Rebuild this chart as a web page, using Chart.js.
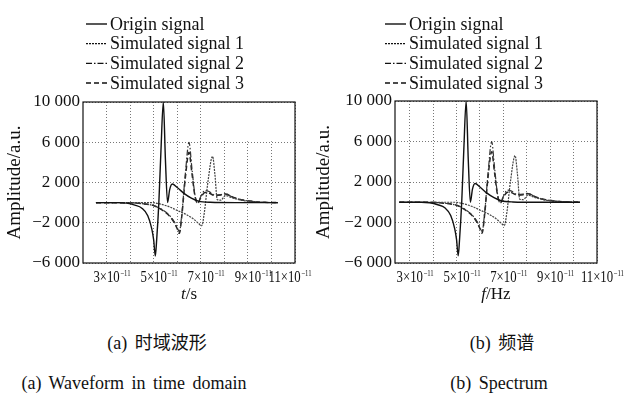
<!DOCTYPE html>
<html><head><meta charset="utf-8">
<script src="https://cdn.jsdelivr.net/npm/chart.js@4.4.1/dist/chart.umd.min.js"></script>
<style>
html,body{margin:0;padding:0;background:#fff;}
body{width:626px;height:394px;position:relative;overflow:hidden;font-family:'Liberation Serif','Noto Sans CJK SC',serif;color:#111;}
canvas{position:absolute;top:0;}
.t{position:absolute;transform:translate(-50%,-50%);white-space:nowrap;font-size:18px;line-height:1;}
.cap{word-spacing:3px;}
</style></head><body>
<canvas id="c1" width="330" height="292" style="left:0"></canvas>
<canvas id="c2" width="313" height="292" style="left:313px"></canvas>
<div class="t" style="left:189px;top:293px;font-size:17px"><i>t</i>/s</div>
<div class="t" style="left:496px;top:293px;font-size:17px"><i>f</i>/Hz</div>
<div class="t cap" style="left:157px;top:343px">(a) 时域波形</div>
<div class="t cap" style="left:502px;top:343px">(b) 频谱</div>
<div class="t cap" style="left:134px;top:383px">(a) Waveform in time domain</div>
<div class="t cap" style="left:499px;top:383px">(b) Spectrum</div>
<script>
// ---- data (x in units of 1e-11) ----
const legendLabels = ['Origin signal', 'Simulated signal 1', 'Simulated signal 2', 'Simulated signal 3'];

const originX = [2.55, 3.5, 3.85, 4.2, 4.5, 4.75, 4.92, 5.0, 5.07, 5.13, 5.22, 5.31, 5.41, 5.5, 5.59, 5.68, 5.79, 6.0, 6.3, 6.6, 6.9, 7.4, 8.5, 10.27];
const originY = [0, 0, -50, -250, -550, -1300, -2600, -3700, -5300, -3600, 0, 5200, 10000, 4200, 0, 1300, 1850, 1500, 900, 450, 150, 30, 0, 0];

const sim1X = [2.55, 4.9, 5.3, 5.7, 6.05, 6.4, 6.7, 6.9, 7.04, 7.15, 7.3, 7.5, 7.6, 7.7, 7.85, 8.05, 8.3, 8.7, 9.2, 9.7, 10.27];
const sim1Y = [0, 0, -150, -450, -830, -1200, -1650, -2050, -2300, -1000, 2000, 4600, 2800, 300, 250, 700, 500, 250, 100, 20, 0];

const sim2X = [2.55, 3.9, 4.5, 5.0, 5.4, 5.7, 5.9, 6.0, 6.09, 6.2, 6.35, 6.5, 6.62, 6.75, 6.87, 7.0, 7.18, 7.35, 7.6, 7.85, 8.05, 8.3, 8.7, 9.2, 9.7, 10.27];
const sim2Y = [0, 0, -100, -300, -750, -1350, -2000, -2500, -2900, -1000, 3000, 6000, 3500, 800, -100, 600, 1200, 1100, 750, 800, 900, 600, 300, 120, 30, 0];

const sim3X = [2.55, 3.9, 4.5, 5.0, 5.4, 5.7, 5.9, 6.0, 6.09, 6.2, 6.35, 6.5, 6.62, 6.75, 6.87, 7.0, 7.18, 7.35, 7.6, 7.85, 8.05, 8.3, 8.7, 9.2, 9.7, 10.27];
const sim3Y = [0, 0, -100, -300, -800, -1400, -2100, -2600, -3050, -1200, 2600, 5000, 3000, 700, -50, 500, 1000, 950, 700, 750, 850, 600, 300, 120, 30, 0];

const yGridValues = [-6000, -4000, -2000, 0, 2000, 4000, 6000, 8000, 10000];
const yLabelValues = [-6000, -2000, 2000, 6000, 10000];
const xGridValues = [3, 4, 5, 6, 7, 8, 9, 10, 11];
const xLabelValues = [3, 5, 7, 9, 11];
const xExponent = '\u221211';

// ---- styles ----
const FONT = "'Liberation Serif', 'Times New Roman', serif";
const seriesStyles = [
  {borderColor: '#111', borderWidth: 1.4, borderDash: []},
  {borderColor: '#444', borderWidth: 1.2, borderDash: [2, 1]},
  {borderColor: '#333', borderWidth: 1.2, borderDash: [6, 2, 1.5, 2]},
  {borderColor: '#222', borderWidth: 1.5, borderDash: [5, 3]}
];
const seriesData = [[originX, originY], [sim1X, sim1Y], [sim2X, sim2Y], [sim3X, sim3Y]];

function pts(xs, ys) { return xs.map((x, i) => ({x: x, y: ys[i]})); }
function fmtY(v) {
  return (v < 0 ? '\u2212' : '') + Math.abs(v).toString().replace(/\B(?=(\d{3})+(?!\d))/g, ' ');
}

const panelPlugin = {
  id: 'panel',
  beforeDatasetsDraw(chart, args, opts) {
    const {ctx, chartArea: a} = chart;
    const x0 = chart.scales.x.getPixelForValue(opts.eraseFromX);
    const y1 = chart.scales.y.getPixelForValue(opts.eraseAboveY);
    ctx.save();
    ctx.fillStyle = '#fff';
    ctx.fillRect(x0, a.top + 1, a.right - x0 - 1, y1 - a.top - 1);
    ctx.restore();
  },
  afterDraw(chart, args, opts) {
    const {ctx, chartArea: a} = chart;
    ctx.save();
    ctx.strokeStyle = '#111';
    ctx.lineWidth = 1.2;
    ctx.strokeRect(a.left, a.top, a.right - a.left, a.bottom - a.top);

    // x tick labels: "N×10" with a small superscript exponent, horizontally condensed
    const xs = chart.scales.x;
    const sx = 0.75;
    const baseY = a.bottom + 19;
    ctx.fillStyle = '#111';
    ctx.textBaseline = 'alphabetic';
    ctx.textAlign = 'left';
    xLabelValues.forEach(v => {
      const base = v + '×10';
      ctx.font = '17px ' + FONT;
      const wb = ctx.measureText(base).width * sx;
      ctx.font = '9px ' + FONT;
      const ws = ctx.measureText(xExponent).width * sx;
      let left = xs.getPixelForValue(v) - wb / 2;
      if (left + wb + ws > opts.labelMaxRight) left = opts.labelMaxRight - wb - ws;
      ctx.save();
      ctx.translate(left, baseY);
      ctx.scale(sx, 1);
      ctx.font = '17px ' + FONT;
      ctx.fillText(base, 0, 0);
      ctx.restore();
      ctx.save();
      ctx.translate(left + wb + 0.5, baseY - 6);
      ctx.scale(sx, 1);
      ctx.font = '9px ' + FONT;
      ctx.fillText(xExponent, 0, 0);
      ctx.restore();
    });

    // legend
    ctx.font = '18px ' + FONT;
    ctx.textBaseline = 'middle';
    chart.data.datasets.forEach((ds, i) => {
      const yy = opts.legendY + i * opts.legendGap;
      ctx.beginPath();
      ctx.setLineDash(ds.borderDash || []);
      ctx.strokeStyle = '#111';
      ctx.lineWidth = ds.borderWidth;
      ctx.moveTo(opts.legendX, yy);
      ctx.lineTo(opts.legendX + 21, yy);
      ctx.stroke();
      ctx.setLineDash([]);
      ctx.fillText(ds.label, opts.legendX + 24, yy + 1);
    });
    ctx.restore();
  }
};

function makeChart(id, cfg) {
  return new Chart(document.getElementById(id), {
    type: 'line',
    data: {
      datasets: seriesData.map((s, i) => Object.assign({
        label: legendLabels[i],
        data: pts(s[0], s[1]),
        pointRadius: 0,
        fill: false,
        cubicInterpolationMode: 'monotone'
      }, seriesStyles[i]))
    },
    options: {
      responsive: false,
      animation: false,
      devicePixelRatio: 1,
      layout: {padding: {top: cfg.top, right: cfg.right, left: 0, bottom: 0}},
      plugins: {
        legend: {display: false},
        tooltip: {enabled: false},
        panel: {eraseFromX: 7.35, eraseAboveY: 6100, legendX: cfg.legendX, legendY: 24, legendGap: 19.7,
                labelMaxRight: cfg.labelMaxRight}
      },
      scales: {
        x: {
          type: 'linear', min: cfg.xMin, max: 11,
          afterBuildTicks(s) { s.ticks = xGridValues.map(v => ({value: v})); },
          afterFit(s) { s.height = 292 - 263; s.paddingLeft = 0; s.paddingRight = 0; },
          grid: {color: '#777', lineWidth: 1, drawTicks: false},
          border: {display: false, dash: [1, 2]},
          ticks: {display: false}
        },
        y: {
          min: -6000, max: 10000,
          afterBuildTicks(s) { s.ticks = yGridValues.map(v => ({value: v})); },
          afterFit(s) { s.width = cfg.yWidth; s.paddingTop = 0; s.paddingBottom = 0; },
          grid: {color: '#777', lineWidth: 1, drawTicks: false},
          border: {display: false, dash: [1, 2]},
          ticks: {
            padding: 3, color: '#111', font: {family: FONT, size: 17},
            callback: v => yLabelValues.includes(v) ? fmtY(v) : ''
          },
          title: {display: true, text: 'Amplitude/a.u.', color: '#111',
                  font: {family: FONT, size: 19}, padding: {top: cfg.titlePad, bottom: 0}}
        }
      }
    },
    plugins: [panelPlugin]
  });
}

makeChart('c1', {top: 102, right: 330 - 295, yWidth: 83, xMin: 2, legendX: 86, titlePad: 4, labelMaxRight: 311});
makeChart('c2', {top: 101, right: 313 - 284, yWidth: 82, xMin: 2.37, legendX: 72, titlePad: 0, labelMaxRight: 313});
</script>
</body></html>
